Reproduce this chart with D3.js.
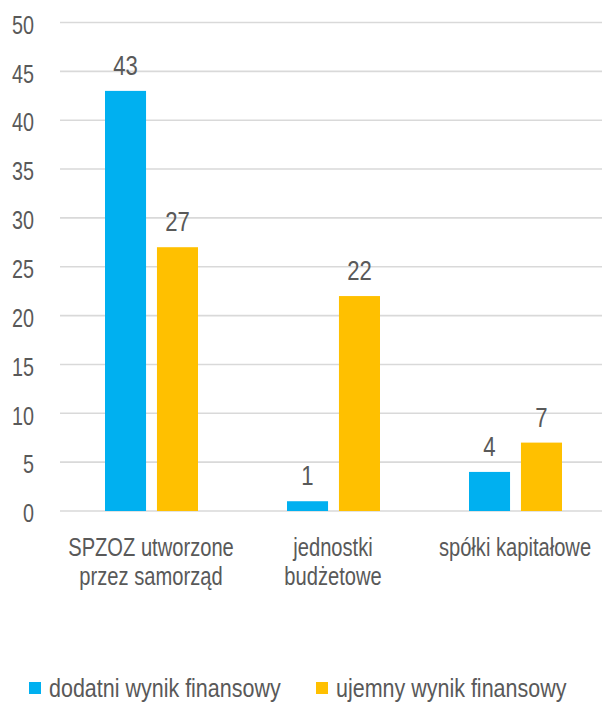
<!DOCTYPE html>
<html lang="pl">
<head>
  <meta charset="UTF-8">
  <title>Wynik finansowy</title>
  <style>
    body { margin: 0; background: #fff; }
    text { font-family: "Liberation Sans", Arial, sans-serif; fill: #595959; }
  </style>
</head>
<body>
  <script src="https://cdn.jsdelivr.net/npm/d3@7/dist/d3.min.js"></script>
  <script>
    // dane
    let categories = [["SPZOZ utworzone", "przez samorząd"], ["jednostki", "budżetowe"], ["spółki kapitałowe"]];
    let series = ["dodatni wynik finansowy", "ujemny wynik finansowy"];
    let dodatni = [43, 1, 4];
    let ujemny = [27, 22, 7];
    let yTicks = [0, 5, 10, 15, 20, 25, 30, 35, 40, 45, 50];
    let colors = ["#00B0F0", "#FFC000"];

    let width = 602, height = 702;
    let narrow = 0.79; // brak Arial Narrow, więc ściskamy tekst w poziomie

    let svg = d3.select("body").append("svg")
      .attr("width", width)
      .attr("height", height);

    let x = d3.scaleBand().domain(d3.range(categories.length)).range([60, 606]);
    let xs = d3.scaleBand().domain(series).range([45, 138]).paddingInner(0.21);
    let y = d3.scaleLinear().domain([0, 50]).range([511, 22.5]);

    // siatka
    svg.append("g").selectAll("line")
      .data(yTicks)
      .enter().append("line")
      .attr("x1", 60).attr("x2", 602)
      .attr("y1", d => y(d)).attr("y2", d => y(d))
      .attr("stroke", "#D9D9D9")
      .attr("stroke-width", 1.6);

    // oś y
    let yAxis = svg.append("g")
      .attr("transform", "translate(34,0)")
      .call(d3.axisLeft(y).tickValues(yTicks).tickSize(0).tickPadding(0));
    yAxis.select(".domain").remove();
    yAxis.selectAll("text")
      .attr("x", 0)
      .attr("dy", "0.43em")
      .attr("font-size", 25)
      .attr("fill", "#595959")
      .attr("font-family", "Liberation Sans, Arial, sans-serif")
      .attr("transform", "scale(" + narrow + ",1)");

    let rows = [dodatni, ujemny];
    let groups = svg.selectAll(".cat")
      .data(categories)
      .enter().append("g")
      .attr("transform", (d, i) => "translate(" + x(i) + ",0)");

    series.forEach((s, si) => {
      groups.append("rect")
        .attr("x", xs(s))
        .attr("width", xs.bandwidth())
        .attr("y", (d, i) => y(rows[si][i]))
        .attr("height", (d, i) => y(0) - y(rows[si][i]))
        .attr("fill", colors[si]);
      groups.append("text")
        .attr("transform", (d, i) => "translate(" + (xs(s) + xs.bandwidth() / 2) + "," + (y(rows[si][i]) - 16) + ") scale(" + narrow + ",1)")
        .attr("text-anchor", "middle")
        .attr("font-size", 28)
        .text((d, i) => rows[si][i]);
    });

    // etykiety kategorii
    groups.append("text")
      .attr("text-anchor", "middle")
      .attr("transform", "translate(" + (x.bandwidth() / 2) + ",0) scale(" + narrow + ",1)")
      .attr("font-size", 25.5)
      .selectAll("tspan")
      .data(d => d)
      .enter().append("tspan")
      .attr("x", 0)
      .attr("y", (d, i) => 556 + i * 29)
      .text(d => d);

    // legenda
    let legX = [29, 316];
    let leg = svg.selectAll(".leg")
      .data(series)
      .enter().append("g")
      .attr("transform", (d, i) => "translate(" + legX[i] + ",682)");
    leg.append("rect")
      .attr("width", 12).attr("height", 12)
      .attr("fill", (d, i) => colors[i]);
    leg.append("text")
      .attr("transform", "translate(20,15) scale(0.86,1)")
      .attr("font-size", 25)
      .text(d => d);
  </script>
</body>
</html>
